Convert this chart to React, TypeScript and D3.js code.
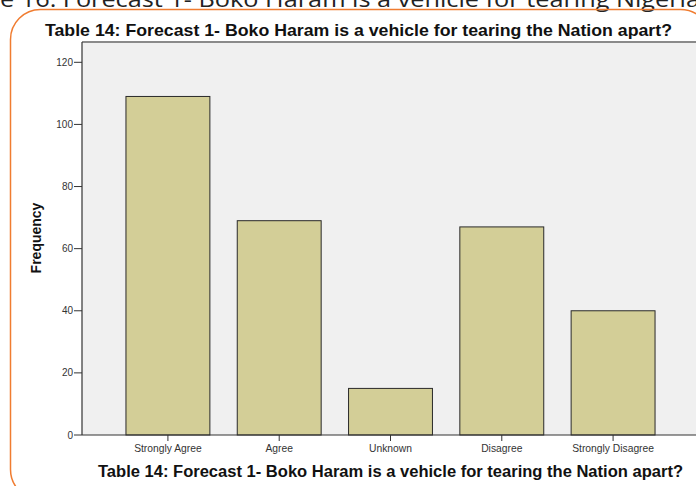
import React from "react";
import * as d3 from "d3";

const categories = ["Strongly Agree", "Agree", "Unknown", "Disagree", "Strongly Disagree"];
const frequencies = [109, 69, 15, 67, 40];
const yTicks = [0, 20, 40, 60, 80, 100, 120];
const chartTitle = "Table 14: Forecast 1- Boko Haram is a vehicle for tearing the Nation apart?";
const xTitle = "Table 14: Forecast 1- Boko Haram is a vehicle for tearing the Nation apart?";
const yTitle = "Frequency";
const captionFragment = "e 16: Forecast 1- Boko Haram is a vehicle for tearing Nigeria";

const W = 696;
const H = 486;
const plotLeft = 82;
const plotTop = 42;
const plotBottom = 435;

export default function App() {
  const x = d3
    .scaleBand<string>()
    .domain(categories)
    .range([plotLeft, 699])
    .paddingInner(0.246)
    .paddingOuter(0.395);
  const y = d3.scaleLinear().domain([0, 120]).range([plotBottom, 62.3]);
  const font = "'Liberation Sans', Arial, sans-serif";

  return (
    <svg
      width={W}
      height={H}
      style={{ position: "absolute", left: 0, top: 0, display: "block", background: "#fff" }}
      fontFamily={font}
    >
      {/* page caption, clipped at top */}
      <text x={0} y={7} fontSize={22} fill="#222" textLength={700} lengthAdjust="spacingAndGlyphs"
        fontFamily="'Open Sans', 'Liberation Sans', sans-serif">
        {captionFragment}
      </text>
      {/* orange rounded frame */}
      <rect x={10.5} y={9.5} width={700} height={490} rx={30} ry={30} fill="none" stroke="#f07c30" strokeWidth={1.5} />

      {/* top title */}
      <text x={45} y={35.5} fontSize={17} fontWeight="bold" fill="#111" textLength={627} lengthAdjust="spacingAndGlyphs">
        {chartTitle}
      </text>

      {/* plot background */}
      <rect x={plotLeft} y={plotTop} width={W - plotLeft} height={plotBottom - plotTop} fill="#f0f0f0" />
      <line x1={plotLeft} x2={W} y1={plotTop} y2={plotTop} stroke="#8a8a8a" strokeWidth={2} />

      {/* bars */}
      {categories.map((c, i) => (
        <rect
          key={c}
          x={x(c)!}
          y={y(frequencies[i])}
          width={x.bandwidth()}
          height={plotBottom - y(frequencies[i])}
          fill="#d3ce97"
          stroke="#2a2a2a"
          strokeWidth={1}
        />
      ))}

      {/* y axis */}
      <line x1={plotLeft} x2={plotLeft} y1={plotTop} y2={plotBottom} stroke="#333" strokeWidth={1.2} />
      {yTicks.map((t) => (
        <g key={t}>
          <line x1={plotLeft - 8} x2={plotLeft} y1={y(t)} y2={y(t)} stroke="#333" strokeWidth={1} />
          <text x={plotLeft - 9} y={y(t) + 3.5} textAnchor="end" fontSize={10} fill="#333">
            {t}
          </text>
        </g>
      ))}
      <text
        transform={`translate(41, 238) rotate(-90)`}
        textAnchor="middle"
        fontSize={14}
        fontWeight="bold"
        fill="#111"
      >
        {yTitle}
      </text>

      {/* x axis */}
      <line x1={plotLeft} x2={W} y1={plotBottom} y2={plotBottom} stroke="#333" strokeWidth={1.2} />
      {categories.map((c) => {
        const cx = x(c)! + x.bandwidth() / 2;
        return (
          <g key={c}>
            <line x1={cx} x2={cx} y1={plotBottom} y2={plotBottom + 6} stroke="#333" strokeWidth={1} />
            <text x={cx} y={452} textAnchor="middle" fontSize={10.3} fill="#333">
              {c}
            </text>
          </g>
        );
      })}
      <text x={98} y={476.5} fontSize={16} fontWeight="bold" fill="#111" textLength={585} lengthAdjust="spacingAndGlyphs">
        {xTitle}
      </text>
    </svg>
  );
}
